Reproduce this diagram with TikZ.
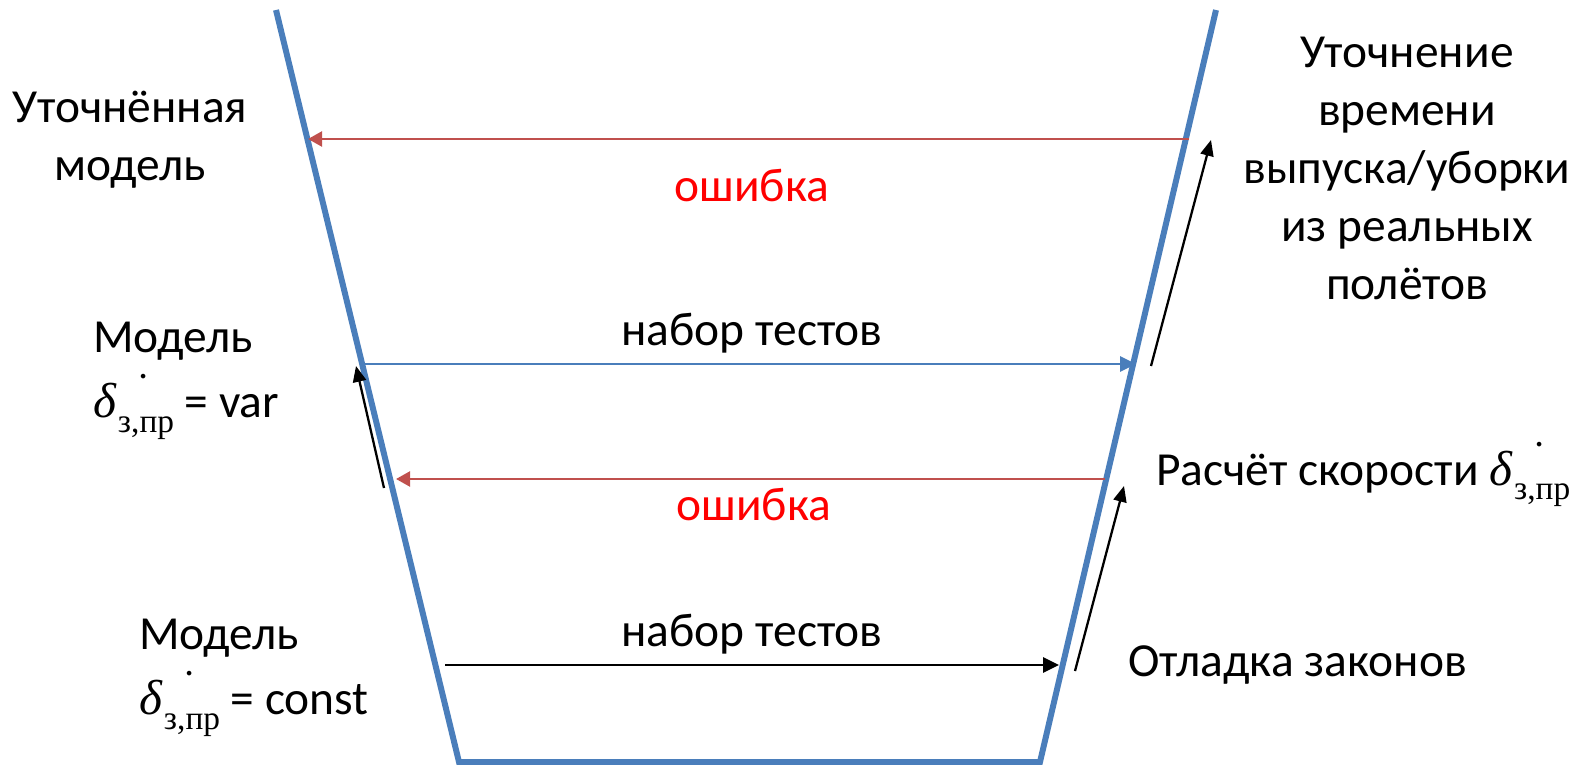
\documentclass[tikz,border=0pt]{standalone}
\usepackage{fontspec}
\setmainfont{Carlito}
\newfontfamily\cyrserif{Liberation Serif}
\usetikzlibrary{arrows.meta}

\definecolor{funnelblue}{RGB}{74,126,187}
\definecolor{errred}{RGB}{192,80,77}

\newcommand{\ddelta}{%
  {\cyrserif\itshape\fontsize{28}{28}\selectfont δ}%
  \rlap{\kern0.45em\raisebox{0.63em}{$\cdot$}}%
  \kern1pt\raisebox{-8.5pt}{\cyrserif\fontsize{19}{19}\selectfont з,пр}}

\tikzset{
  funnel/.style={draw=funnelblue,line width=3.4pt,line join=miter},
  errarrow/.style={draw=errred,line width=1.5pt,-{Triangle[length=8pt,width=8.5pt]}},
  testarrow/.style={line width=1.5pt,-{Triangle[length=9pt,width=8.5pt]}},
  steparrow/.style={line width=1.3pt,-{Triangle[length=9pt,width=7.5pt]}},
  lbl/.style={font=\fontsize{27}{33}\selectfont,inner sep=0pt},
  modlbl/.style={lbl,font=\fontsize{27}{37}\selectfont,align=left,anchor=west},
}

\begin{document}
\begin{tikzpicture}[x=0.02cm,y=-0.02cm]
  \useasboundingbox (0,0) rectangle (1593,767);

  % funnel
  \draw[funnel]
    (276,10)
    -- (459,762)
    -- (1040,762)
    -- (1216,10);

  % arrow ends
  \coordinate (errtopR) at (1189,139);
  \coordinate (errtopL) at (308,139);
  \coordinate (testtopL) at (364,364);
  \coordinate (testtopR) at (1136,364);
  \coordinate (errlowR) at (1105,479);
  \coordinate (errlowL) at (396,479);
  \coordinate (testlowL) at (445,665);
  \coordinate (testlowR) at (1059,665);
  \coordinate (upLs) at (384,488);
  \coordinate (upLe) at (356,366);
  \coordinate (upRs) at (1151,366);
  \coordinate (upRe) at (1211,140);
  \coordinate (lowRs) at (1075,671);
  \coordinate (lowRe) at (1124,486);

  % horizontal arrows
  \draw[errarrow] (errtopR) -- (errtopL);
  \draw[testarrow,draw=funnelblue] (testtopL) -- (testtopR);
  \draw[errarrow] (errlowR) -- (errlowL);
  \draw[testarrow] (testlowL) -- (testlowR);

  % slanted arrows
  \draw[steparrow] (upLs) -- (upLe);
  \draw[steparrow] (upRs) -- (upRe);
  \draw[steparrow] (lowRs) -- (lowRe);

  % arrow labels
  \node[lbl,text=red] (errtop) at (752,186) {ошибка};
  \node[lbl] (testtop) at (752,333) {набор тестов};
  \node[lbl,text=red] (errlow) at (754,505) {ошибка};
  \node[lbl] (testlow) at (752,634) {набор тестов};

  % side labels
  \node[lbl,align=center] (refined) at (130,140) {Уточнённая\\модель};
  \node[lbl,align=center] (flights) at (1407,168)
    {Уточнение\\времени\\выпуска/уборки\\из реальных\\полётов};
  \node[modlbl] (modvar) at (93,381) {Модель\\\ddelta{} = var};
  \node[lbl,anchor=base west] (speed) at (1156,485) {Расчёт скорости \ddelta};
  \node[modlbl] (modconst) at (139,678) {Модель\\\ddelta{} = const};
  \node[lbl,anchor=west] (laws) at (1128,665) {Отладка законов};
\end{tikzpicture}
\end{document}
